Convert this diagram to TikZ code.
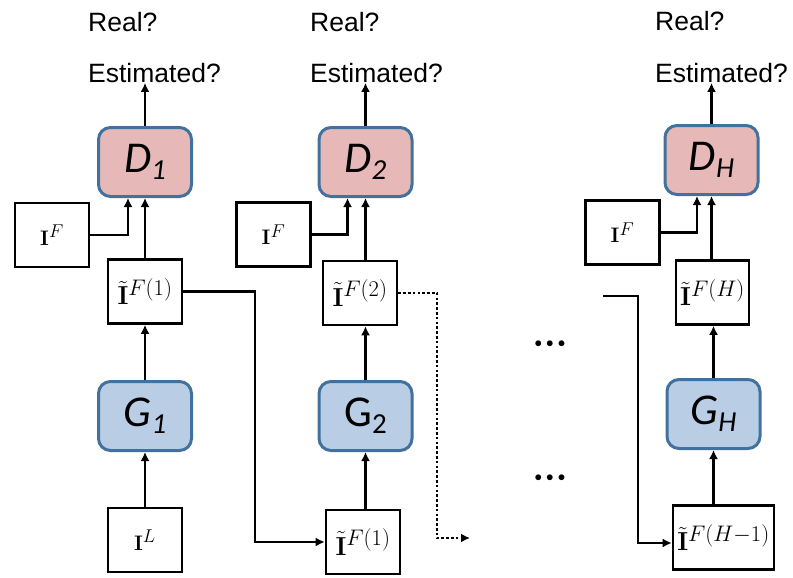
\RequirePackage{fix-cm}
\documentclass[tikz,border=0pt]{standalone}
\usepackage[no-math]{fontspec}
\setmainfont{Liberation Sans}
\newfontfamily\calib{Carlito}
\usetikzlibrary{arrows.meta}
\definecolor{discfill}{HTML}{E6B9B8}
\definecolor{genfill}{HTML}{B9CDE5}
\definecolor{netedge}{HTML}{41719C}
% large superscripts in the image labels
\DeclareMathSizes{21}{21}{18.5}{14}
\DeclareMathSizes{26}{26}{22.5}{17}
\newcommand\subidx[1]{\raisebox{-7pt}{\fontsize{29}{29}\selectfont #1}}
\newcommand\genimg[1]{$\tilde{\mathbf{I}}^{#1}$\hspace{6pt}}
\newcommand\dotrow{${\bullet}\mkern5mu{\bullet}\mkern5mu{\bullet}$}
\tikzset{
  net/.style={draw=netedge, line width=3pt, rounded corners=12pt,
    minimum width=93pt, minimum height=69pt, inner sep=0pt,
    font=\calib\fontsize{44}{44}\selectfont},
  disc/.style={net, fill=discfill},
  gen/.style={net, fill=genfill},
  img/.style={draw=black, line width=2.6pt, minimum width=74pt,
    minimum height=64pt, inner sep=0pt, font=\fontsize{21}{21}\selectfont},
  genbox/.style={img, font=\fontsize{26}{26}\selectfont},
  flow/.style={line width=2.6pt, -{Latex[length=9pt,width=9pt]}},
  question/.style={anchor=west, inner sep=0pt, font=\fontsize{26.5}{26.5}\selectfont},
  ellip/.style={inner sep=0pt, font=\fontsize{15}{15}\selectfont},
}
\begin{document}
\begin{tikzpicture}[x=1pt,y=-1pt]
\useasboundingbox (0,0) rectangle (793,578);

% discriminator outputs
\node[question] (r1) at (88,22) {Real?};
\node[question] (e1) at (88,73) {Estimated?};
\node[question] (r2) at (310,22) {Real?};
\node[question] (e2) at (310,73) {Estimated?};
\node[question] (r3) at (655,21) {Real?};
\node[question] (e3) at (655,73) {Estimated?};

% discriminators
\node[disc] (D1) at (145,162) {\itshape D\subidx{1}};
\node[disc] (D2) at (365.5,162) {\itshape D\subidx{2}};
\node[disc] (DH) at (711.5,160) {\itshape D\subidx{H}};

% generators
\node[gen] (G1) at (145,416) {\itshape G\subidx{1}};
\node[gen] (G2) at (365.5,416) {G\subidx{2}};
\node[gen] (GH) at (713.5,414) {\itshape G\subidx{H}};

% reference images fed to the discriminators
\node[img] (F1) at (52,235) {$\mathbf{I}^F$};
\node[img] (F2) at (273.5,234.5) {$\mathbf{I}^F$};
\node[img] (FH) at (622.5,232.5) {$\mathbf{I}^F$};

% generated images
\node[genbox] (T1) at (145,291.5) {\genimg{F(1)}};
\node[genbox] (T2) at (360,293) {\genimg{F(2)}};
\node[genbox, minimum width=73pt] (TH) at (712.5,292.5) {\genimg{F(H)}};

% generator inputs
\node[img] (L1) at (145,540) {$\mathbf{I}^L$};
\node[genbox] (B2) at (363,542) {\genimg{F(1)}};
\node[genbox, minimum width=101pt] (BH) at (723.5,537.5) {\genimg{F(H-1)}};

% ellipses between stages
\node[ellip] (dotsA) at (550,344) {\dotrow};
\node[ellip] (dotsB) at (550,478) {\dotrow};

% stage 1
\draw[flow] (D1.north) -- (D1.north |- e1.south);
\draw[flow] (F1.east) -| ([xshift=-17pt]D1.south);
\draw[flow] (T1.north) -- (T1.north |- D1.south);
\draw[flow] (G1.north) -- (G1.north |- T1.south);
\draw[flow] (L1.north) -- (L1.north |- G1.south);

% stage 2
\draw[flow] (D2.north) -- (D2.north |- e2.south);
\draw[flow] (F2.east) -| ([xshift=-18pt]D2.south);
\draw[flow] (D2.south |- T2.north) -- (D2.south);
\draw[flow] (G2.north) -- (G2.north |- T2.south);
\draw[flow] (G2.south |- B2.north) -- (G2.south);

% stage H
\draw[flow] (DH.north) -- (DH.north |- e3.south);
\draw[flow] (FH.east) -| ([xshift=-14.5pt]DH.south);
\draw[flow] (DH.south |- TH.north) -- (DH.south);
\draw[flow] (GH.north) -- (GH.north |- TH.south);
\draw[flow] (GH.south |- BH.north) -- (GH.south);

% passing generated images on to the next stage
\coordinate (k1) at (255,0);
\draw[flow] (T1.east) -| (k1 |- B2.west) -- (B2.west);
\coordinate (k2) at (437,538);
\coordinate (dotend) at (470,538);
\draw[flow, dash pattern=on 2.6pt off 2.2pt] (T2.east) -| (k2) -- (dotend);
\coordinate (h0) at (603,296);
\coordinate (h1) at (638,543);
\draw[flow] (h0) -| (h1) -- (h1 -| BH.west);
\end{tikzpicture}
\end{document}
